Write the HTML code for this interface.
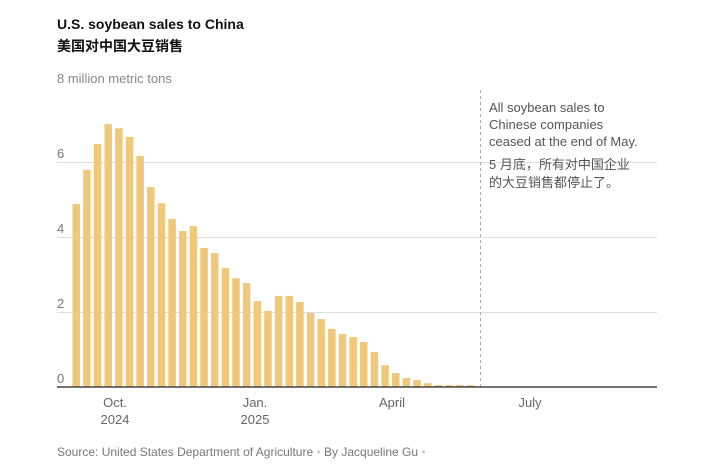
<!DOCTYPE html>
<html><head><meta charset="utf-8"><style>
body{margin:0;background:#fff;width:712px;height:464px;overflow:hidden;font-family:"Liberation Sans","Noto Sans CJK SC",sans-serif;}
svg text{font-family:"Liberation Sans","Noto Sans CJK SC",sans-serif;}
</style></head><body>
<svg width="712" height="464" xmlns="http://www.w3.org/2000/svg">
<text x="57" y="29" font-size="14" font-weight="bold" fill="#111">U.S. soybean sales to China</text>
<text x="57" y="51" font-size="14" font-weight="bold" fill="#111">美国对中国大豆销售</text>
<text x="57" y="83" font-size="13" fill="#888">8 million metric tons</text>
<g stroke="#ddd" stroke-width="1">
<line x1="57" x2="657" y1="312.5" y2="312.5"/>
<line x1="57" x2="657" y1="237.5" y2="237.5"/>
<line x1="57" x2="657" y1="162.5" y2="162.5"/>
</g>
<g font-size="13" fill="#777">
<text x="57" y="383">0</text>
<text x="57" y="308">2</text>
<text x="57" y="233">4</text>
<text x="57" y="158">6</text>
</g>
<g fill="#f0c87a">
<rect x="72.5" y="204" width="7.5" height="183"/>
<rect x="83.15" y="169.9" width="7.5" height="217.1"/>
<rect x="93.8" y="144" width="7.5" height="243"/>
<rect x="104.45" y="124.1" width="7.5" height="262.9"/>
<rect x="115.1" y="128.25" width="7.5" height="258.75"/>
<rect x="125.75" y="136.9" width="7.5" height="250.1"/>
<rect x="136.4" y="156" width="7.5" height="231"/>
<rect x="147.05" y="187.1" width="7.5" height="199.9"/>
<rect x="157.7" y="203.25" width="7.5" height="183.75"/>
<rect x="168.35" y="219" width="7.5" height="168"/>
<rect x="179" y="231" width="7.5" height="156"/>
<rect x="189.65" y="226.1" width="7.5" height="160.9"/>
<rect x="200.3" y="247.9" width="7.5" height="139.1"/>
<rect x="210.95" y="253.1" width="7.5" height="133.9"/>
<rect x="221.6" y="268.1" width="7.5" height="118.9"/>
<rect x="232.25" y="278.25" width="7.5" height="108.75"/>
<rect x="242.9" y="283.1" width="7.5" height="103.9"/>
<rect x="253.55" y="301.1" width="7.5" height="85.9"/>
<rect x="264.2" y="310.9" width="7.5" height="76.1"/>
<rect x="274.85" y="295.9" width="7.5" height="91.1"/>
<rect x="285.5" y="295.9" width="7.5" height="91.1"/>
<rect x="296.15" y="301.9" width="7.5" height="85.1"/>
<rect x="306.8" y="313.1" width="7.5" height="73.9"/>
<rect x="317.45" y="319.1" width="7.5" height="67.9"/>
<rect x="328.1" y="328.9" width="7.5" height="58.1"/>
<rect x="338.75" y="334.1" width="7.5" height="52.9"/>
<rect x="349.4" y="337.1" width="7.5" height="49.9"/>
<rect x="360.05" y="342" width="7.5" height="45"/>
<rect x="370.7" y="352.1" width="7.5" height="34.9"/>
<rect x="381.35" y="365.25" width="7.5" height="21.75"/>
<rect x="392" y="373.1" width="7.5" height="13.9"/>
<rect x="402.65" y="378" width="7.5" height="9"/>
<rect x="413.3" y="379.9" width="7.5" height="7.1"/>
<rect x="423.95" y="383.25" width="7.5" height="3.75"/>
<rect x="434.6" y="385.1" width="7.5" height="1.9"/>
<rect x="445.25" y="385.1" width="7.5" height="1.9"/>
<rect x="455.9" y="385.1" width="7.5" height="1.9"/>
<rect x="466.55" y="385.1" width="7.5" height="1.9"/>
</g>
<line x1="480.5" x2="480.5" y1="90" y2="387" stroke="#aaa" stroke-dasharray="3,3"/>
<line x1="57" x2="657" y1="387" y2="387" stroke="#222" stroke-width="1.2"/>
<g font-size="13" fill="#666" text-anchor="middle">
<text x="115" y="407">Oct.</text><text x="115" y="424">2024</text>
<text x="255" y="407">Jan.</text><text x="255" y="424">2025</text>
<text x="392" y="407">April</text>
<text x="530" y="407">July</text>
</g>
<g font-size="13" fill="#555">
<text x="489" y="112">All soybean sales to</text>
<text x="489" y="129">Chinese companies</text>
<text x="489" y="146">ceased at the end of May.</text>
<text x="489" y="169">5 月底，所有对中国企业</text>
<text x="489" y="187">的大豆销售都停止了。</text>
</g>
<text x="57" y="456" font-size="12" fill="#777">Source: United States Department of Agriculture  <tspan fill="#ccc">•</tspan>  By Jacqueline Gu  <tspan fill="#ccc">•</tspan></text>
</svg>
</body></html>
